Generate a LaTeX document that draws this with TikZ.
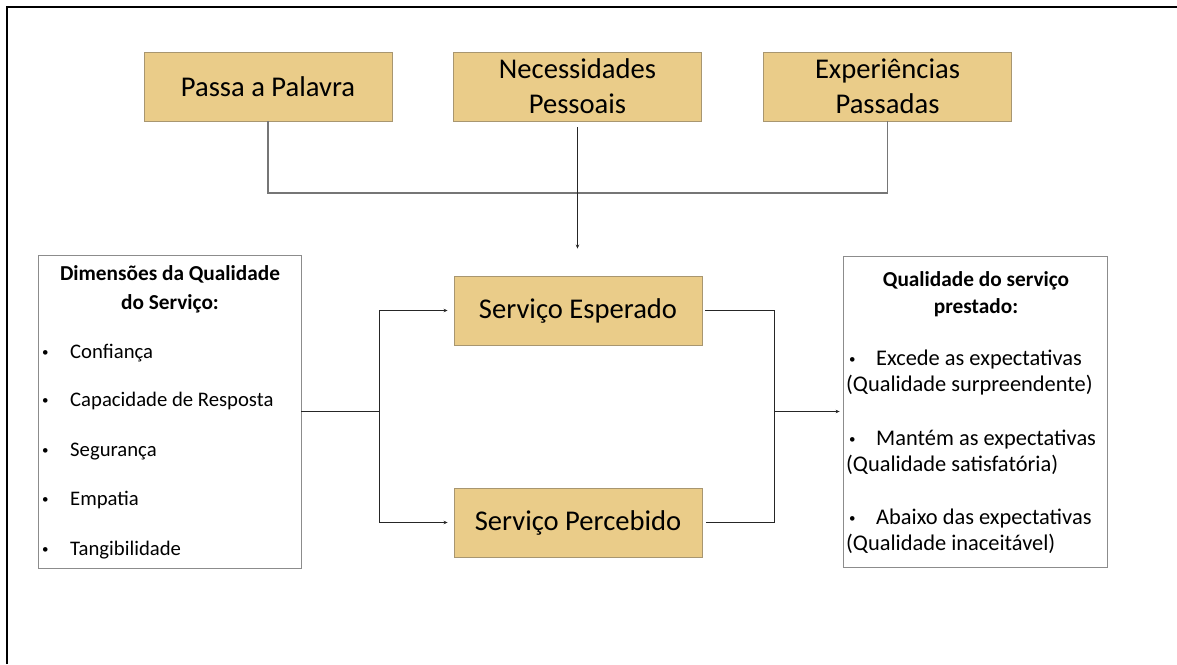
\documentclass[tikz,border=0pt]{standalone}
\usepackage{fontspec}
\setmainfont{Carlito}
\usetikzlibrary{arrows.meta}
\definecolor{boxgold}{RGB}{234,204,137}
\definecolor{boxedge}{RGB}{168,150,112}
\definecolor{linkgray}{RGB}{118,118,118}
\newcommand{\smalldot}{{\fontsize{13}{13}\selectfont\textbullet}}

\begin{document}
\begin{tikzpicture}[x=1pt,y=-1pt,
        goldbox/.style={draw=boxedge,fill=boxgold,line width=0.9pt,minimum width=248pt,minimum height=69pt,inner sep=0pt,align=center,font=\fontsize{28.6}{35}\selectfont},
        listbox/.style={draw=black!45,line width=0.8pt,inner sep=0pt},
        lefttxt/.style={anchor=base west,inner sep=0pt,font=\fontsize{20.7}{24}\selectfont},
        righttxt/.style={anchor=base west,inner sep=0pt,font=\fontsize{22.4}{26}\selectfont},
        headtxt/.style={anchor=base,inner sep=0pt,font=\bfseries\fontsize{21.3}{26}\selectfont},
        graylink/.style={draw=linkgray,line width=1.4pt},
        blacklink/.style={draw=black!85,line width=0.9pt},
        smallarrow/.style={blacklink,-{Stealth[length=4pt,width=3.5pt]}}]
        \useasboundingbox (0,0) rectangle (1177,664);
        \draw[line width=2pt] (6.5,664) -- (6.5,6.5) -- (1177,6.5);

        \node[goldbox] (passa) at (268,86.5) {Passa a Palavra};
        \node[goldbox] (necess) at (577.5,86.5) {Necessidades\\Pessoais};
        \node[goldbox] (exper) at (887.5,86.5) {Experiências\\Passadas};

        \node[goldbox] (esperado) at (578,310.5) {Serviço Esperado};
        \node[goldbox] (percebido) at (578,522.5) {Serviço Percebido};

        \node[listbox,minimum width=263pt,minimum height=313pt] (dims) at (169.5,411.5) {};
        \node[listbox,minimum width=264pt,minimum height=311pt] (result) at (975,411.5) {};

        \coordinate (join) at (577.5,193);
        \coordinate (lfork) at (379,411.5);
        \coordinate (rfork) at (774,411.5);

        \draw[graylink] (passa.south) |- (join) -| (exper.south);
        \draw[smallarrow,shorten <=6pt,shorten >=27pt] (necess.south) -- (necess.south |- esperado.north);

        \draw[blacklink] (dims.east) -- (lfork);
        \draw[smallarrow,shorten >=6pt] (lfork) |- (esperado.west);
        \draw[smallarrow,shorten >=6pt] (lfork) |- (percebido.west);

        \draw[blacklink,shorten <=3pt] (esperado.east) -| (rfork);
        \draw[blacklink,shorten <=4pt] (percebido.east) -| (rfork);
        \draw[smallarrow,shorten >=3pt] (rfork) -- (result.west);

        \node[headtxt] (dimhead) at (170,280) {Dimensões da Qualidade};
        \node[headtxt] (dimhead2) at (170,309) {do Serviço:};
        \node[lefttxt] (dimb1) at (42,356) {\smalldot};
        \node[lefttxt] (dim1) at (70,358) {Confiança};
        \node[lefttxt] (dimb2) at (42,404) {\smalldot};
        \node[lefttxt] (dim2) at (70,406) {Capacidade de Resposta};
        \node[lefttxt] (dimb3) at (42,454) {\smalldot};
        \node[lefttxt] (dim3) at (70,456) {Segurança};
        \node[lefttxt] (dimb4) at (42,503) {\smalldot};
        \node[lefttxt] (dim4) at (70,505) {Empatia};
        \node[lefttxt] (dimb5) at (42,553) {\smalldot};
        \node[lefttxt] (dim5) at (70,555) {Tangibilidade};

        \node[headtxt] (reshead) at (976,286) {Qualidade do serviço};
        \node[headtxt] (reshead2) at (976,313) {prestado:};
        \node[righttxt] (resb1) at (849,363) {\smalldot};
        \node[righttxt] (res1) at (876,365) {Excede as expectativas};
        \node[righttxt] (res1b) at (846,391) {(Qualidade surpreendente)};
        \node[righttxt] (resb2) at (849,443) {\smalldot};
        \node[righttxt] (res2) at (876,445) {Mantém as expectativas};
        \node[righttxt] (res2b) at (846,471) {(Qualidade satisfatória)};
        \node[righttxt] (resb3) at (849,522) {\smalldot};
        \node[righttxt] (res3) at (876,524) {Abaixo das expectativas};
        \node[righttxt] (res3b) at (846,550) {(Qualidade inaceitável)};
    \end{tikzpicture}
\end{document}
